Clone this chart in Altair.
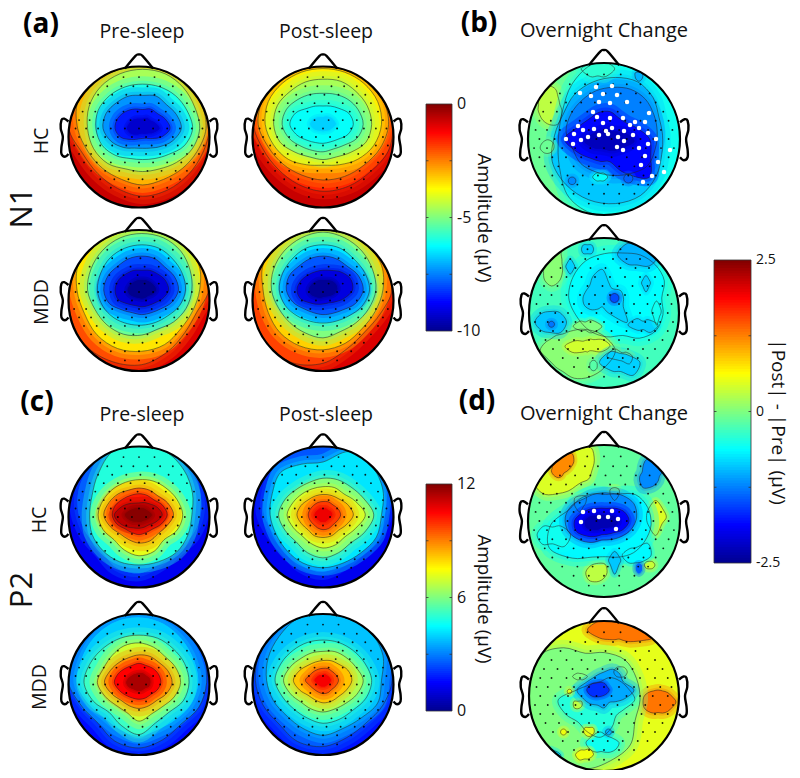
import math
import altair as alt
import pandas as pd

# Jet colour range and colour-bar domains
JET = ["#00008f", "#0000ff", "#00ffff", "#ffff00", "#ff0000", "#800000"]
DOM_N1 = [-10, -8.75, -6.25, -3.75, -1.25, 0]
DOM_P2 = [0, 1.5, 4.5, 7.5, 10.5, 12]
DOM_DF = [-2.5, -1.875, -0.625, 0.625, 1.875, 2.5]

# Each level: (value, has contour line, offset x, offset y, radii clockwise from north), in % of head radius
A1 = [
 (-0.7, 0, 0, 0, [100]*8),
 (-1.8, 1, 5, 12, [130,130,130,115,98,92,92,94,96,92,90,92,105,125,130,130]),
 (-3.0, 1, 5, 12, [100,100,100,92,90,84,80,78,80,78,80,84,92,100,105,100]),
 (-4.6, 1, 5, 12, [84,84,82,80,81,76,68,62,61,62,70,75,78,82,84,84]),
 (-6.0, 1, 5, 12, [63,64,66,68,71,64,52,46,44,46,54,62,66,68,66,64]),
 (-7.3, 1, 5, 12, [47,50,48,52,55,46,36,30,28,30,38,48,56,56,52,50]),
 (-8.5, 1, 5, 12, [27,30,30,35,39,30,20,15,14,16,22,33,39,38,34,30]),
 (-9.3, 0, 5, 12, [14,16,16,20,24,16,10,8,7,8,12,18,22,20,18,15]),
]
A2 = [
 (-0.7, 0, 0, 0, [100]*8),
 (-1.6, 1, 0, 18, [130,130,130,125,110,100,95,95,95,92,90,92,100,120,130,130]),
 (-2.5, 1, 0, 18, [100,100,100,95,93,88,82,80,79,78,80,84,92,100,105,100]),
 (-3.6, 1, 0, 18, [79,80,82,84,83,78,70,62,58,62,70,76,82,84,82,80]),
 (-4.6, 1, 0, 18, [64,66,66,68,69,66,56,50,50,50,56,66,70,70,66,65]),
 (-5.6, 1, 0, 18, [44,46,50,54,57,52,42,38,39,40,44,52,58,56,50,46]),
 (-6.2, 1, 0, 18, [26,28,32,40,43,38,30,27,27,28,32,40,47,42,32,28]),
 (-6.7, 0, 0, 18, [10,12,14,16,18,14,12,10,10,10,12,15,18,16,13,11]),
]
A3 = [
 (-0.9, 0, 0, 0, [100]*8),
 (-2.0, 1, 4, 15, [135,135,125,105,95,84,86,95,106,110,112,108,108,125,135,135]),
 (-3.5, 1, 4, 15, [100,100,98,88,82,78,78,84,87,90,90,88,92,100,100,100]),
 (-5.2, 1, 4, 15, [80,80,78,74,71,68,64,60,64,68,70,72,77,78,79,80]),
 (-6.6, 1, 4, 15, [64,64,62,62,62,58,52,50,50,52,56,60,63,63,64,64]),
 (-8.0, 1, 4, 15, [48,48,46,50,52,46,38,35,35,35,40,50,54,52,48,48]),
 (-9.2, 1, 4, 15, [28,30,32,36,38,32,26,24,24,24,28,36,38,36,32,30]),
 (-10.0, 0, 4, 15, [14,15,16,18,20,16,12,12,12,12,14,18,20,18,16,15]),
]
A4 = [
 (-0.9, 0, 0, 0, [100]*8),
 (-1.9, 1, 0, 15, [135,135,125,108,98,88,84,90,104,112,118,112,108,125,135,135]),
 (-3.3, 1, 0, 15, [100,100,98,90,85,80,78,82,85,86,86,84,85,92,98,100]),
 (-5.0, 1, 0, 15, [82,80,78,76,75,70,66,64,68,66,66,68,73,76,78,80]),
 (-6.5, 1, 0, 15, [64,64,62,64,66,60,52,48,47,48,52,58,62,62,62,64]),
 (-7.9, 1, 0, 15, [48,48,48,54,57,50,40,36,35,35,38,46,52,52,48,48]),
 (-9.1, 1, 0, 15, [28,30,36,42,42,32,24,20,20,22,26,34,37,34,30,28]),
 (-9.9, 0, 0, 15, [14,15,18,20,20,16,12,10,10,12,14,18,20,18,16,15]),
]
C1 = [
 (1.3, 0, 0, 0, [100]*8),
 (2.6, 0, 0, 6, [108,100,95,92,88,82,74,78,86,84,76,80,86,92,98,105]),
 (4.9, 1, 0, 3, [120,120,90,82,75,75,75,72,71,72,72,72,70,72,82,110]),
 (7.2, 1, 0, 3, [50,52,54,58,62,58,50,56,58,54,50,55,58,55,52,50]),
 (8.8, 1, 0, 3, [38,38,38,44,49,42,38,40,40,38,38,44,50,46,42,38]),
 (10.2, 1, 0, 3, [30,30,30,36,40,34,28,27,28,27,28,34,38,36,32,30]),
 (11.3, 1, 0, 3, [17,19,22,28,33,26,20,19,19,20,24,30,35,28,22,18]),
 (11.9, 0, 0, 3, [9,10,12,14,18,14,11,10,10,10,13,16,20,15,12,10]),
]
C2 = [
 (1.3, 0, 0, 0, [100]*8),
 (2.5, 0, 0, 6, [106,100,92,92,88,80,72,76,84,80,72,76,84,88,96,104]),
 (4.2, 1, 0, 3, [75,100,110,92,83,82,76,74,75,74,72,72,75,78,85,78]),
 (5.6, 1, 0, 3, [52,54,56,62,72,64,56,58,61,58,54,58,63,58,52,50]),
 (7.0, 1, 0, 3, [40,42,42,50,60,50,44,46,47,44,42,46,51,46,42,40]),
 (8.4, 1, 0, 3, [29,30,32,38,43,36,31,32,32,32,30,33,37,34,30,29]),
 (9.8, 1, 0, 3, [19,20,20,23,25,22,20,21,21,20,19,20,21,20,19,19]),
 (10.7, 0, 0, 3, [9,10,10,12,13,11,10,10,10,10,10,11,12,11,10,10]),
]
C3 = [
 (1.6, 0, 0, 0, [100]*8),
 (2.6, 1, 0, 3, [110,110,104,100,96,92,84,88,93,90,82,88,100,100,104,110]),
 (3.9, 0, 0, 3, [92,90,86,84,84,80,74,72,76,72,70,78,88,88,90,92]),
 (5.2, 1, 0, 3, [67,68,68,70,71,68,60,62,74,66,60,70,78,74,70,68]),
 (6.9, 1, 0, 3, [56,54,52,56,59,54,48,48,55,46,46,52,59,54,54,56]),
 (8.8, 1, 0, 3, [39,40,40,44,47,42,36,36,37,36,36,42,49,44,40,38]),
 (10.5, 1, 0, 3, [27,26,28,30,31,28,24,24,24,24,26,30,35,32,28,26]),
 (11.5, 0, 0, 3, [13,14,14,16,16,15,12,12,12,12,13,16,18,16,14,13]),
]
C4 = [
 (1.7, 0, 0, 0, [100]*8),
 (2.6, 1, 0, 6, [110,112,108,100,98,92,86,88,94,94,88,92,96,100,100,105]),
 (3.8, 1, 0, 6, [105,100,105,92,83,84,76,74,78,74,72,76,80,84,88,100]),
 (5.0, 1, 0, 6, [57,58,60,64,69,66,60,60,61,58,58,62,68,64,60,58]),
 (6.5, 1, 0, 6, [41,44,46,50,57,52,46,44,45,44,44,50,56,50,44,42]),
 (8.2, 1, 0, 6, [28,30,32,38,41,36,32,32,32,30,30,36,42,36,30,28]),
 (9.6, 1, 0, 6, [17,18,18,20,22,20,18,19,19,18,18,20,25,20,18,17]),
 (10.6, 0, 0, 6, [8,9,9,10,11,10,9,9,9,9,9,10,12,10,9,8]),
]
B1 = [
 (-0.1, 0, 0, 0, [100]*8),
 (0.3, 1, -72, 45, [25,22,16,14,14,18,22,28,26,22,18,16,14,16,20,24]),
 (-0.55, 1, 30, 0, [130,130,125,105,90,90,105,110,112,112,108,96,90,92,102,118]),
 (-0.9, 1, 15, 5, [76,76,70,62,62,66,76,86,90,92,92,90,80,74,76,76]),
 (-1.25, 1, 12, 10, [58,60,60,58,58,60,64,60,58,58,60,58,62,60,58,58]),
 (-1.85, 1, 8, 0, [36,30,30,38,52,58,72,48,30,32,36,46,60,44,38,38]),
 (-2.25, 0, 6, -3, [16,14,18,26,34,22,16,14,12,12,14,22,32,24,18,16]),
 (-0.1, 1, -74, -12, [11,10,8,7,7,8,10,10]),
 (-1.2, 1, -42, -55, [5,5,5,5,5,5,5,5]),
 (-1.4, 1, 32, -52, [6,6,6,6,6,6,6,6]),
 (-0.6, 1, -5, -50, [5,7,10,7,5,7,10,7]),
 (-1.0, 1, 46, 82, [6,7,5,5,6,5,5,7]),
 (-0.4, 1, -8, 92, [12,18,22,14,9,14,22,18]),
]
B2 = [
 (-0.3, 0, 0, 0, [100]*8),
 (0.05, 1, -70, 66, [26,24,18,15,14,16,20,26,30,24,15,12,14,16,20,24]),
 (-0.62, 1, 25, 20, [60,62,62,60,52,58,62,58,50,56,62,66,72,72,70,64]),
 (0.05, 1, -55, -50, [22,28,40,56,70,60,50,40,28,24,22,24,30,26,22,22]),
 (0.4, 1, -22, -44, [8,10,12,22,30,20,9,7,8,8,12,22,30,18,9,8]),
 (0.25, 1, 24, -58, [5,8,14,14,6,7,20,14]),
 (0.0, 1, -25, -18, [6,12,22,12,5,8,16,10]),
 (-0.85, 1, -2, 20, [38,22,18,26,28,30,46,22,12,16,22,26,26,24,24,32]),
 (-1.5, 1, 14, 20, [6,6,6,6,6,6,6,6]),
 (-1.0, 1, 44, 78, [14,22,30,22,14,18,26,20]),
 (-0.9, 1, -72, -12, [14,18,22,20,14,16,20,16]),
 (-1.3, 1, -70, -15, [4,4,4,4,4,4,4,4]),
 (-0.85, 1, 22, -66, [12,14,26,24,12,16,28,20]),
 (-0.85, 1, 52, -16, [5,10,20,14,6,10,20,12]),
 (-0.85, 1, 56, 40, [10,6,6,6,12,6,6,6]),
 (-0.85, 1, -45, 62, [10,6,6,6,10,6,6,6]),
 (-0.85, 1, -22, 85, [6,8,8,8,6,8,8,8]),
 (-0.2, 1, -14, -70, [7,6,5,6,7,6,5,6]),
 (-0.55, 1, 70, 0, [16,8,6,6,16,6,6,8]),
]
D1 = [
 (-0.15, 0, 0, 0, [100]*8),
 (0.45, 1, -46, 66, [34,40,42,36,30,28,22,22,26,32,44,50,48,44,42,36]),
 (1.2, 1, -60, 70, [18,24,26,22,16,12,10,12,13,12,11,10,8,10,12,15]),
 (0.35, 1, 14, 36, [8,8,6,6,9,6,6,8]),
 (0.45, 1, -32, 24, [9,12,8,7,12,8,7,9]),
 (0.45, 1, 68, 5, [22,14,14,12,24,14,12,14]),
 (0.3, 1, -10, -68, [12,16,14,12,12,14,14,12]),
 (0.35, 1, 60, -58, [5,6,7,6,5,6,7,6]),
 (-0.65, 1, 2, -5, [40,44,56,60,60,56,52,46,42,46,62,80,72,52,48,44]),
 (-0.55, 1, -68, -18, [10,16,24,22,12,18,20,16]),
 (-0.65, 1, 42, -45, [10,22,20,12,10,14,18,12]),
 (-0.9, 1, 14, -52, [12,8,8,8,18,8,8,8]),
 (-1.2, 1, -3, 5, [32,34,40,46,46,42,36,32,30,36,42,48,48,42,34,32]),
 (-1.9, 1, -3, 0, [17,18,24,32,36,30,22,19,18,22,28,36,36,28,22,18]),
 (-2.3, 0, -3, 0, [8,8,10,16,22,18,12,10,9,12,16,22,22,16,10,8]),
 (-1.2, 1, 60, 64, [20,20,20,16,16,14,16,18,20,22,18,14,10,10,12,16]),
 (-1.4, 0, 46, -62, [6,5,4,5,7,5,4,5]),
]
D2 = [
 (0.5, 0, 0, 0, [100]*8),
 (1.3, 1, 20, 88, [12,22,30,40,52,36,22,15,12,14,18,28,42,30,18,12]),
 (1.3, 1, 72, -8, [16,16,18,20,24,20,18,16,14,16,18,20,20,20,18,16]),
 (0.85, 1, 22, 32, [7,8,9,8,7,8,9,8]),
 (0.85, 1, -32, 26, [4,5,10,6,4,6,10,6]),
 (0.0, 1, -25, -5, [62,68,75,74,73,72,85,88,95,95,100,90,75,80,95,75]),
 (-0.45, 1, -5, -5, [24,32,36,40,46,34,30,40,50,46,42,50,56,34,26,24]),
 (-0.55, 1, -4, -62, [14,12,12,16,24,22,18,14,12,14,16,18,20,16,14,14]),
 (0.5, 1, -20, -48, [6,8,7,6,6,6,7,8]),
 (0.55, 1, -54, -48, [4,4,4,4,4,4,4,4]),
 (0.55, 1, -26, -78, [6,10,12,8,6,10,12,8]),
 (0.3, 1, -35, -12, [5,7,6,5,5,6,6,7]),
 (-1.05, 1, 0, 8, [24,30,30,28,40,30,22,18,24,22,26,30,36,26,22,22]),
 (-1.65, 1, -7, 8, [10,11,12,12,14,12,10,9,9,10,12,14,16,14,12,10]),
 (-1.0, 1, 6, -48, [4,4,4,4,4,4,4,4]),
 (0.5, 1, -46, 6, [3,3,3,3,3,3,3,3]),
 (-0.8, 1, -66, -78, [5,5,8,8,5,5,8,8]),
]

HEADS_N1 = [(A1, 139, 137, 70.5), (A2, 323, 137, 70.5), (A3, 139, 300.5, 70.5), (A4, 323, 300.5, 70.5)]
HEADS_P2 = [(C1, 139, 517, 70.5), (C2, 323, 517, 70.5), (C3, 139, 684.5, 70.5), (C4, 323, 684.5, 70.5)]
HEADS_DF = [(B1, 604, 139, 76), (B2, 604, 313, 75), (D1, 604, 521, 76), (D2, 604, 696, 75)]

# Electrode positions, % of head radius: row y -> xs
ELECTRODES = {
 85: [-22,0,22], 72: [-45,-25,-8,12,30,48], 60: [-58,-38,-18,2,22,42,60],
 48: [-70,-50,-30,-12,8,28,48,68], 36: [-80,-62,-42,-22,-2,18,38,58,78],
 24: [-85,-70,-50,-32,-12,8,28,48,68,85], 12: [-90,-75,-58,-40,-20,0,20,40,58,75,90],
 0: [-85,-65,-48,-30,-10,10,30,48,65,85], -12: [-92,-75,-55,-38,-18,0,18,38,55,75,92],
 -24: [-85,-68,-50,-30,-10,10,30,50,68,85], -36: [-78,-60,-40,-20,0,20,40,60,78],
 -48: [-68,-48,-28,-8,12,32,52,68], -60: [-55,-35,-15,5,25,45,58],
 -72: [-40,-20,0,20,40], -85: [-20,0,20],
}
WHITE_B = [(580,93),(596,87),(612,86),(591,96),(603,94),(617,95),(599,102),(610,103),(627,102),(649,113),
 (593,112),(597,117),(603,123),(610,118),(623,118),(630,125),(635,122),(578,126),(583,130),(594,129),(606,131),
 (612,128),(624,131),(639,128),(645,122),(574,134),(588,137),(599,135),(608,134),(618,137),(633,135),(648,133),
 (656,139),(566,139),(581,140),(573,144),(617,147),(624,141),(639,148),(648,144),(623,150),(645,156),(641,165),
 (658,162),(652,176),(643,182),(664,172),(670,150)]
WHITE_D = [(583,512),(594,511),(612,511),(599,517),(608,517),(618,519),(581,522),(616,529)]

# Nose and ear outlines, % of head radius, relative to head centre (y up)
NOSE = [(-20,97),(-5,115),(0,117),(5,115),(20,97)]
EAR_L = [(-100,22),(-106,26),(-110,24),(-111,12),(-108,0),(-110,-14),(-110,-24),(-105,-28),(-100,-24)]

TITLES = [("(a)",41,25,28,0,700),("(b)",479,24,28,0,700),("(c)",37,403,28,0,700),("(d)",477,402,28,0,700),
 ("Pre-sleep",142,32,19.5,0,400),("Post-sleep",326,32,19.5,0,400),("Overnight Change",604,31,20,0,400),
 ("Pre-sleep",142,415,19.5,0,400),("Post-sleep",326,415,19.5,0,400),("Overnight Change",604,414,20,0,400),
 ("HC",42,141,19.5,270,400),("MDD",42,302,19.5,270,400),("HC",40,520,19.5,270,400),("MDD",40,687,19.5,270,400),
 ("Amplitude (µV)",484,218,18.8,90,400),("Amplitude (µV)",484,599,18.8,90,400),("|Post| - |Pre| (µV)",778,422,19,90,400),
 ("N1",23,208,31,270,400),("P2",23,590,31,270,400)]

# Colour bars: domain, box, tick values and their labels, inner tick fractions
BARS = [(DOM_N1, 426, 452, 104, 331, [-10,-5,0], ["-10","-5","0"], 16),
        (DOM_P2, 426, 452, 484, 711, [0,6,12], ["0","6","12"], 16),
        (DOM_DF, 714, 751, 260, 563, [-2.5,0,2.5], ["-2.5","0","2.5"], 14)]
INNER_TICKS = [0.25, 0.5, 0.75]

X = alt.X("x:Q", scale=alt.Scale(domain=[8,792]), axis=None)
Y = alt.Y("y:Q", scale=alt.Scale(domain=[770,8]), axis=None)

def level_rows(heads):
    rows = []
    for h,(levels,cx,cy,R) in enumerate(heads):
        for j,(v,line,ox,oy,rad) in enumerate(levels):
            mean_r = sum(rad)/len(rad)
            soft = (7,3) if mean_r < 16 else ((12,5) if mean_r < 40 else (16,7))
            for p,w in enumerate(soft):
                pid = f"{h:02d}-{j:02d}-{p}"
                for k,r in enumerate(rad):
                    t = 2*math.pi*k/len(rad)
                    ux = (ox+r*math.sin(t))/100
                    uy = (oy+r*math.cos(t))/100
                    d = max(1.0, math.hypot(ux,uy))   # clip to the scalp
                    rows.append(dict(id=pid,k=k,v=v,line=line,p=p,w=w,x=cx+R*ux/d,y=cy-R*uy/d))
    return pd.DataFrame(rows)

def bands(heads, bar):
    domain,x0,x1,y0,y1,ticks,labels,lab = bar
    s = alt.Scale(domain=domain, range=JET, interpolate="rgb")
    df = level_rows(heads)
    fills = alt.Chart(df).mark_line(interpolate="cardinal-closed", strokeOpacity=0.33, fillOpacity=1).encode(
        x=X, y=Y, detail="id:N", order="k:Q",
        fill=alt.Fill("v:Q", scale=s, legend=None),
        stroke=alt.Stroke("v:Q", scale=s, legend=None),
        size=alt.Size("w:Q", scale=None, legend=None))
    lines = alt.Chart(df[(df.line==1)&(df.p==1)]).mark_line(interpolate="cardinal-closed", color="#222", strokeWidth=0.7, strokeOpacity=0.75).encode(
        x=X, y=Y, detail="id:N", order="k:Q")
    n = 114
    lo,hi = domain[0],domain[-1]
    step = (y1-y0)/n
    cells = pd.DataFrame([dict(v=lo+(hi-lo)*(i+0.5)/n, x=x0, x2=x1, y=y1-step*i,
                               y2=max(y0, y1-step*(i+1)-0.8)) for i in range(n)])
    ramp = alt.Chart(cells).mark_rect(opacity=1).encode(
        x=X, x2="x2:Q", y=Y, y2="y2:Q", color=alt.Color("v:Q", scale=s, legend=None))
    box = alt.Chart(pd.DataFrame([dict(x=x0,x2=x1,y=y0,y2=y1)])).mark_rect(fillOpacity=0, stroke="#333", strokeWidth=0.8).encode(
        x=X, x2="x2:Q", y=Y, y2="y2:Q")
    tick_rows = []
    for f in INNER_TICKS:
        yy = y1-(y1-y0)*f
        tick_rows += [dict(x=x0,x2=x0+2.5,y=yy), dict(x=x1-2.5,x2=x1,y=yy)]
    tk = alt.Chart(pd.DataFrame(tick_rows)).mark_rule(color="#333", strokeWidth=0.8).encode(x=X, x2="x2:Q", y=Y)
    ty = [y1-(y1-y0)*(t-lo)/(hi-lo) for t in ticks]
    tdf_ = pd.DataFrame(dict(t=labels, x=[x1+5]*3, y=ty))
    tl = alt.Chart(tdf_).mark_text(font="Open Sans", fontSize=lab, color="#111", align="left", baseline="middle").encode(x=X, y=Y, text="t:N")
    return fills, lines, ramp, box, tk, tl

parts = [bands(HEADS_N1, BARS[0]), bands(HEADS_P2, BARS[1]), bands(HEADS_DF, BARS[2])]

ALL = HEADS_N1+HEADS_P2+HEADS_DF
centres = pd.DataFrame([dict(x=c,y=d,R=R,mask=(2*R+14)**2,out=(2*R)**2) for _,c,d,R in ALL])
mask = alt.Chart(centres).mark_point(shape="circle", filled=False, color="white", strokeWidth=14, opacity=1).encode(
    x=X, y=Y, size=alt.Size("mask:Q", scale=None, legend=None))
outline = alt.Chart(centres).mark_point(shape="circle", filled=False, color="black", strokeWidth=2.2, opacity=1).encode(
    x=X, y=Y, size=alt.Size("out:Q", scale=None, legend=None))

shape_rows = []
for h,(_,c,d,R) in enumerate(ALL):
    for k,(a,b) in enumerate(NOSE):
        shape_rows.append(dict(id=f"n{h}",k=k,x=c+R*a/100,y=d-R*b/100))
    for k,(a,b) in enumerate(EAR_L):
        shape_rows.append(dict(id=f"l{h}",k=k,x=c+R*a/100,y=d-R*b/100))
        shape_rows.append(dict(id=f"r{h}",k=k,x=c-R*a/100,y=d-R*b/100))
shapes = alt.Chart(pd.DataFrame(shape_rows)).mark_line(interpolate="cardinal", color="black", strokeWidth=2.4).encode(
    x=X, y=Y, detail="id:N", order="k:Q")

dot_rows = [dict(x=c+R*ex/100,y=d-R*ey/100) for _,c,d,R in ALL for ey,xs in ELECTRODES.items() for ex in xs]
dots = alt.Chart(pd.DataFrame(dot_rows)).mark_circle(color="black", size=3.5, opacity=0.85).encode(x=X, y=Y)
whites = alt.Chart(pd.DataFrame([dict(x=a,y=b) for a,b in WHITE_B+WHITE_D])).mark_circle(color="white", size=20, opacity=1).encode(x=X, y=Y)

tdf = pd.DataFrame(TITLES, columns=["t","x","y","s","a","wt"])
text_n = alt.Chart(tdf[tdf.wt==400]).mark_text(font="Open Sans", color="#111", baseline="middle", align="center").encode(
    x=X, y=Y, text="t:N", size=alt.Size("s:Q", scale=None, legend=None), angle=alt.Angle("a:Q", scale=None))
text_b = alt.Chart(tdf[tdf.wt==700]).mark_text(font="Open Sans", fontWeight="bold", color="black", baseline="middle", align="center").encode(
    x=X, y=Y, text="t:N", size=alt.Size("s:Q", scale=None, legend=None))

layers = [p[0] for p in parts]+[p[1] for p in parts]+[dots, mask, shapes, outline, whites]
for p in parts:
    layers += [p[2], p[3], p[4], p[5]]
layers += [text_n, text_b]
chart = alt.layer(*layers).resolve_scale(
    fill="independent", stroke="independent", color="independent", size="independent", angle="independent"
).properties(width=784, height=762, padding=0, autosize=alt.AutoSizeParams(type="none")).configure_view(stroke=None)
chart.save("out.html", embed_options={"renderer": "svg", "actions": False})
